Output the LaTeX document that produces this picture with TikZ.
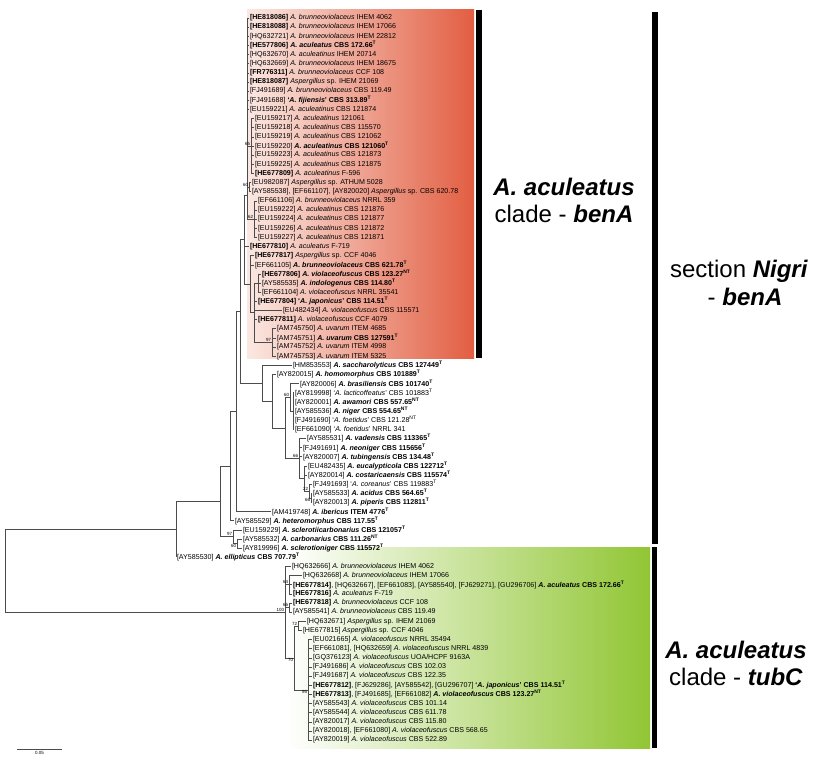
\documentclass[tikz,border=0pt]{standalone}
\usepackage{fontspec}
\setmainfont{Liberation Sans}
\definecolor{redL}{RGB}{251,232,226}
\definecolor{redR}{RGB}{226,94,66}
\definecolor{grnR}{RGB}{145,198,52}
\newcommand{\supT}{\textsuperscript{T}}
\newcommand{\supNT}{\textsuperscript{NT}}
\tikzset{
  br/.style={draw=black!70, line width=0.55pt},
  tip/.style={anchor=west, inner sep=0.8pt, font=\fontsize{7.1}{8}\selectfont},
  bs/.style={anchor=south east, inner sep=0.6pt, font=\fontsize{4.5}{5}\selectfont},
  bsl/.style={bs, anchor=north east},
  bigtxt/.style={inner sep=0pt, font=\fontsize{24}{27}\selectfont},
}

\begin{document}
\begin{tikzpicture}[x=1pt,y=-9.14pt]
\useasboundingbox (0,-1.969) rectangle (827,81.51);
% clade boxes and bars
\shade[left color=redL, right color=redR] (247,-0.9) rectangle (474,37.2);
\shade[left color=white, right color=grnR] (287,57.9) rectangle (650,79.9);
\fill (476,-0.9) rectangle (482,37.2);
\fill (652,-0.7) rectangle (658,57.6);
\fill (652,57.9) rectangle (657,79.9);
\node[bigtxt] (capA) at (564,18.5) {\textbf{\textit{A. aculeatus}}};
\node[bigtxt] (capB) at (564,21.4) {clade - \textbf{\textit{benA}}};
\node[bigtxt] (secA) at (739,27.7) {section \textbf{\textit{Nigri}}};
\node[bigtxt] (secB) at (745,30.5) {- \textbf{\textit{benA}}};
\node[bigtxt] (capC) at (736,69.1) {\textbf{\textit{A. aculeatus}}};
\node[bigtxt] (capD) at (736,72.1) {clade - \textbf{\textit{tubC}}};
% tips
\node[tip] (t0) at (249,0) {\textbf{[HE818086]} \textit{A. brunneoviolaceus} IHEM 4062};
\node[tip] (t1) at (249,1) {\textbf{[HE818088]} \textit{A. brunneoviolaceus} IHEM 17066};
\node[tip] (t2) at (249,2) {[HQ632721] \textit{A. brunneoviolaceus} IHEM 22812};
\node[tip] (t3) at (249,3) {\textbf{[HE577806] \textit{A. aculeatus} CBS 172.66\supT}};
\node[tip] (t4) at (249,4) {[HQ632670] \textit{A. aculeatinus} IHEM 20714};
\node[tip] (t5) at (249,5) {[HQ632669] \textit{A. brunneoviolaceus} IHEM 18675};
\node[tip] (t6) at (249,6) {\textbf{[FR776311]} \textit{A. brunneoviolaceus} CCF 108};
\node[tip] (t7) at (249,7) {\textbf{[HE818087]} \textit{Aspergillus} sp. IHEM 21069};
\node[tip] (t8) at (249,8) {[FJ491689] \textit{A. brunneoviolaceus} CBS 119.49};
\node[tip] (t9) at (249,9) {[FJ491688] \textbf{`\textit{A. fijiensis}' CBS 313.89\supT}};
\node[tip] (t10) at (249,10) {[EU159221] \textit{A. aculeatinus} CBS 121874};
\node[tip] (t11) at (254,11) {[EU159217] \textit{A. aculeatinus} 121061};
\node[tip] (t12) at (254,12) {[EU159218] \textit{A. aculeatinus} CBS 115570};
\node[tip] (t13) at (254,13) {[EU159219] \textit{A. aculeatinus} CBS 121062};
\node[tip] (t14) at (254,14) {[EU159220] \textbf{\textit{A. aculeatinus} CBS 121060\supT}};
\node[tip] (t15) at (254,15) {[EU159223] \textit{A. aculeatinus} CBS 121873};
\node[tip] (t16) at (254,16) {[EU159225] \textit{A. aculeatinus} CBS 121875};
\node[tip] (t17) at (254,17) {\textbf{[HE677809]} \textit{A. aculeatinus} F-596};
\node[tip] (t18) at (251,18) {[EU982087] \textit{Aspergillus} sp. ATHUM 5028};
\node[tip] (t19) at (251,19) {[AY585538], [EF661107], [AY820020] \textit{Aspergillus} sp. CBS 620.78};
\node[tip] (t20) at (257,20) {[EF661106] \textit{A. brunneoviolaceus} NRRL 359};
\node[tip] (t21) at (257,21) {[EU159222] \textit{A. aculeatinus} CBS 121876};
\node[tip] (t22) at (257,22) {[EU159224] \textit{A. aculeatinus} CBS 121877};
\node[tip] (t23) at (257,23) {[EU159226] \textit{A. aculeatinus} CBS 121872};
\node[tip] (t24) at (257,24) {[EU159227] \textit{A. aculeatinus} CBS 121871};
\node[tip] (t25) at (249,25) {\textbf{[HE677810]} \textit{A. aculeatus} F-719};
\node[tip] (t26) at (254,26) {\textbf{[HE677817]} \textit{Aspergillus} sp. CCF 4046};
\node[tip] (t27) at (254,27) {[EF661105] \textbf{\textit{A. brunneoviolaceus} CBS 621.78\supT}};
\node[tip] (t28) at (261,28) {\textbf{[HE677806] \textit{A. violaceofuscus} CBS 123.27\supNT}};
\node[tip] (t29) at (261,29) {[AY585535] \textbf{\textit{A. indologenus} CBS 114.80\supT}};
\node[tip] (t30) at (261,30) {[EF661104] \textit{A. violaceofuscus} NRRL 35541};
\node[tip] (t31) at (257,31) {\textbf{[HE677804] `\textit{A. japonicus}' CBS 114.51\supT}};
\node[tip] (t32) at (282,32) {[EU482434] \textit{A. violaceofuscus} CBS 115571};
\node[tip] (t33) at (257,33) {\textbf{[HE677811]} \textit{A. violaceofuscus} CCF 4079};
\node[tip] (t34) at (276,34) {[AM745750] \textit{A. uvarum} ITEM 4685};
\node[tip] (t35) at (276,35) {[AM745751] \textbf{\textit{A. uvarum} CBS 127591\supT}};
\node[tip] (t36) at (276,36) {[AM745752] \textit{A. uvarum} ITEM 4998};
\node[tip] (t37) at (276,37) {[AM745753] \textit{A. uvarum} ITEM 5325};
\node[tip] (t38) at (292,38) {[HM853553] \textbf{\textit{A. saccharolyticus} CBS 127449\supT}};
\node[tip] (t39) at (276,39) {[AY820015] \textbf{\textit{A. homomorphus} CBS 101889\supT}};
\node[tip] (t40) at (299,40) {[AY820006] \textbf{\textit{A. brasiliensis} CBS 101740\supT}};
\node[tip] (t41) at (294,41) {[AY819998] `\textit{A. lacticoffeatus}' CBS 101883\supT};
\node[tip] (t42) at (294,42) {[AY820001] \textbf{\textit{A. awamori} CBS 557.65\supNT}};
\node[tip] (t43) at (294,43) {[AY585536] \textbf{\textit{A. niger} CBS 554.65\supNT}};
\node[tip] (t44) at (294,44) {[FJ491690] `\textit{A. foetidus}' CBS 121.28\supNT};
\node[tip] (t45) at (294,45) {[EF661090] `\textit{A. foetidus}' NRRL 341};
\node[tip] (t46) at (306,46) {[AY585531] \textbf{\textit{A. vadensis} CBS 113365\supT}};
\node[tip] (t47) at (302,47) {[FJ491691] \textbf{\textit{A. neoniger} CBS 115656\supT}};
\node[tip] (t48) at (302,48) {[AY820007] \textbf{\textit{A. tubingensis} CBS 134.48\supT}};
\node[tip] (t49) at (307,49) {[EU482435] \textbf{\textit{A. eucalypticola} CBS 122712\supT}};
\node[tip] (t50) at (307,50) {[AY820014] \textbf{\textit{A. costaricaensis} CBS 115574\supT}};
\node[tip] (t51) at (312,51) {[FJ491693] `\textit{A. coreanus}' CBS 119883\supT};
\node[tip] (t52) at (312,52) {[AY585533] \textbf{\textit{A. acidus} CBS 564.65\supT}};
\node[tip] (t53) at (312,53) {[AY820013] \textbf{\textit{A. piperis} CBS 112811\supT}};
\node[tip] (t54) at (271,54) {[AM419748] \textbf{\textit{A. ibericus} ITEM 4776\supT}};
\node[tip] (t55) at (234,55) {[AY585529] \textbf{\textit{A. heteromorphus} CBS 117.55\supT}};
\node[tip] (t56) at (242,56) {[EU159229] \textbf{\textit{A. sclerotiicarbonarius} CBS 121057\supT}};
\node[tip] (t57) at (242,57) {[AY585532] \textbf{\textit{A. carbonarius} CBS 111.26\supNT}};
\node[tip] (t58) at (242,58) {[AY819996] \textbf{\textit{A. sclerotioniger} CBS 115572\supT}};
\node[tip] (t59) at (176,59) {[AY585530] \textbf{\textit{A. ellipticus} CBS 707.79\supT}};
\node[tip] (t60) at (291,60) {[HQ632666] \textit{A. brunneoviolaceus} IHEM 4062};
\node[tip] (t61) at (302,61) {[HQ632668] \textit{A. brunneoviolaceus} IHEM 17066};
\node[tip] (t62) at (292,62) {\textbf{[HE677814]}, [HQ632667], [EF661083], [AY585540], [FJ629271], [GU296706] \textbf{\textit{A. aculeatus} CBS 172.66\supT}};
\node[tip] (t63) at (292,63) {\textbf{[HE677816]} \textit{A. aculeatus} F-719};
\node[tip] (t64) at (292,64) {\textbf{[HE677818]} \textit{A. brunneoviolaceus} CCF 108};
\node[tip] (t65) at (292,65) {[AY585541] \textit{A. brunneoviolaceus} CBS 119.49};
\node[tip] (t66) at (306,66) {[HQ632671] \textit{Aspergillus} sp. IHEM 21069};
\node[tip] (t67) at (302,67) {[HE677815] \textit{Aspergillus} sp. CCF 4046};
\node[tip] (t68) at (312,68) {[EU021665] \textit{A. violaceofuscus} NRRL 35494};
\node[tip] (t69) at (312,69) {[EF661081], [HQ632659] \textit{A. violaceofuscus} NRRL 4839};
\node[tip] (t70) at (312,70) {[GQ376123] \textit{A. violaceofuscus} UOA/HCPF 9163A};
\node[tip] (t71) at (312,71) {[FJ491686] \textit{A. violaceofuscus} CBS 102.03};
\node[tip] (t72) at (312,72) {[FJ491687] \textit{A. violaceofuscus} CBS 122.35};
\node[tip] (t73) at (312,73) {\textbf{[HE677812]}, [FJ629286], [AY585542], [GU296707] \textbf{`\textit{A. japonicus}' CBS 114.51\supT}};
\node[tip] (t74) at (312,74) {\textbf{[HE677813]}, [FJ491685], [EF661082] \textbf{\textit{A. violaceofuscus} CBS 123.27\supNT}};
\node[tip] (t75) at (312,75) {[AY585543] \textit{A. violaceofuscus} CBS 101.14};
\node[tip] (t76) at (312,76) {[AY585544] \textit{A. violaceofuscus} CBS 611.78};
\node[tip] (t77) at (312,77) {[AY820017] \textit{A. violaceofuscus} CBS 115.80};
\node[tip] (t78) at (312,78) {[AY820018], [EF661080] \textit{A. violaceofuscus} CBS 568.65};
\node[tip] (t79) at (312,79) {[AY820019] \textit{A. violaceofuscus} CBS 522.89};
% internal nodes
\coordinate (nS65) at (251,14);
\coordinate (nS60) at (249,18.5);
\coordinate (nS62) at (254,22);
\coordinate (nP) at (247,19.4);
\coordinate (nSv) at (258,29);
\coordinate (nS97) at (272,35.5);
\coordinate (nN) at (254,32.25);
\coordinate (nM) at (250,29.125);
\coordinate (nR) at (244,24.26);
\coordinate (nH2) at (293,43);
\coordinate (nH) at (290,41.5);
\coordinate (nL) at (311,52.5);
\coordinate (nK) at (309,51.75);
\coordinate (nJ) at (304,50.375);
\coordinate (nI) at (299,48.19);
\coordinate (nG) at (285,44.84);
\coordinate (nF) at (272,41.92);
\coordinate (nE) at (262,39.96);
\coordinate (nD1) at (240,32.11);
\coordinate (nD0) at (236,43.06);
\coordinate (nC1) at (230,49.03);
\coordinate (nC3) at (237,57.5);
\coordinate (nC2) at (233,56.75);
\coordinate (nB1) at (220,52.89);
\coordinate (nA1) at (176,55.95);
\coordinate (nG64) at (289,62);
\coordinate (nG66) at (289,64.5);
\coordinate (nG72) at (298,66.5);
\coordinate (nG95) at (308,73.5);
\coordinate (nG70) at (294,70);
\coordinate (nG0) at (285,65);
\coordinate (nRoot) at (5,60.48);
% leaf branches
\foreach \i in {0,...,10} \draw[br] (nP |- t\i) -- (t\i.west);
\foreach \i in {11,...,17} \draw[br] (nS65 |- t\i) -- (t\i.west);
\foreach \i in {18,19} \draw[br] (nS60 |- t\i) -- (t\i.west);
\foreach \i in {20,...,24} \draw[br] (nS62 |- t\i) -- (t\i.west);
\draw[br] (nR |- t25) -- (t25.west);
\foreach \i in {26,27} \draw[br] (nM |- t\i) -- (t\i.west);
\foreach \i in {28,29,30} \draw[br] (nSv |- t\i) -- (t\i.west);
\foreach \i in {31,32,33} \draw[br] (nN |- t\i) -- (t\i.west);
\foreach \i in {34,...,37} \draw[br] (nS97 |- t\i) -- (t\i.west);
\draw[br] (nE |- t38) -- (t38.west);
\draw[br] (nF |- t39) -- (t39.west);
\draw[br] (nH |- t40) -- (t40.west);
\foreach \i in {41,...,45} \draw[br] (nH2 |- t\i) -- (t\i.west);
\foreach \i in {46,47,48} \draw[br] (nI |- t\i) -- (t\i.west);
\foreach \i in {49,50} \draw[br] (nJ |- t\i) -- (t\i.west);
\draw[br] (nK |- t51) -- (t51.west);
\foreach \i in {52,53} \draw[br] (nL |- t\i) -- (t\i.west);
\draw[br] (nD0 |- t54) -- (t54.west);
\draw[br] (nC1 |- t55) -- (t55.west);
\draw[br] (nC2 |- t56) -- (t56.west);
\foreach \i in {57,58} \draw[br] (nC3 |- t\i) -- (t\i.west);
\draw[br] (nG0 |- t60) -- (t60.west);
\foreach \i in {61,62,63} \draw[br] (nG64 |- t\i) -- (t\i.west);
\foreach \i in {64,65} \draw[br] (nG66 |- t\i) -- (t\i.west);
\foreach \i in {66,67} \draw[br] (nG72 |- t\i) -- (t\i.west);
\foreach \i in {68,...,79} \draw[br] (nG95 |- t\i) -- (t\i.west);
% clade verticals
\draw[br] (nP |- t0) -- (nP |- nS62);
\draw[br] (nS65 |- t11) -- (nS65 |- t17);
\draw[br] (nS60 |- t18) -- (nS60 |- t19);
\draw[br] (nS62 |- t20) -- (nS62 |- t24);
\draw[br] (nSv |- t28) -- (nSv |- t30);
\draw[br] (nS97 |- t34) -- (nS97 |- t37);
\draw[br] (nN |- nSv) -- (nN |- nS97);
\draw[br] (nM |- t26) -- (nM |- nN);
\draw[br] (nR |- nP) -- (nR |- nM);
\draw[br] (nH2 |- t41) -- (nH2 |- t45);
\draw[br] (nH |- t40) -- (nH |- nH2);
\draw[br] (nL |- t52) -- (nL |- t53);
\draw[br] (nK |- t51) -- (nK |- nL);
\draw[br] (nJ |- t49) -- (nJ |- nK);
\draw[br] (nI |- t46) -- (nI |- nJ);
\draw[br] (nG |- nH) -- (nG |- nI);
\draw[br] (nF |- t39) -- (nF |- nG);
\draw[br] (nE |- t38) -- (nE |- nF);
\draw[br] (nD1 |- nR) -- (nD1 |- nE);
\draw[br] (nD0 |- nD1) -- (nD0 |- t54);
\draw[br] (nC1 |- nD0) -- (nC1 |- t55);
\draw[br] (nC3 |- t57) -- (nC3 |- t58);
\draw[br] (nC2 |- t56) -- (nC2 |- nC3);
\draw[br] (nB1 |- nC1) -- (nB1 |- nC2);
\draw[br] (nA1 |- nB1) -- (nA1 |- t59);
\draw[br] (nG64 |- t61) -- (nG64 |- t63);
\draw[br] (nG66 |- t64) -- (nG66 |- t65);
\draw[br] (nG72 |- t66) -- (nG72 |- t67);
\draw[br] (nG95 |- t68) -- (nG95 |- t79);
\draw[br] (nG70 |- nG72) -- (nG70 |- nG95);
\draw[br] (nG0 |- t60) -- (nG0 |- nG70);
\draw[br] (nRoot |- nA1) -- (nRoot |- nG0);
% inner branches
\draw[br] (nP |- nS65) -- (nS65);
\draw[br] (nP |- nS60) -- (nS60);
\draw[br] (nP |- nS62) -- (nS62);
\draw[br] (nR |- nP) -- (nP);
\draw[br] (nR |- nM) -- (nM);
\draw[br] (nM |- nN) -- (nN);
\draw[br] (nN |- nSv) -- (nSv);
\draw[br] (nN |- nS97) -- (nS97);
\draw[br] (nD1 |- nR) -- (nR);
\draw[br] (nD1 |- nE) -- (nE);
\draw[br] (nE |- nF) -- (nF);
\draw[br] (nF |- nG) -- (nG);
\draw[br] (nG |- nH) -- (nH);
\draw[br] (nG |- nI) -- (nI);
\draw[br] (nH |- nH2) -- (nH2);
\draw[br] (nI |- nJ) -- (nJ);
\draw[br] (nJ |- nK) -- (nK);
\draw[br] (nK |- nL) -- (nL);
\draw[br] (nD0 |- nD1) -- (nD1);
\draw[br] (nC1 |- nD0) -- (nD0);
\draw[br] (nB1 |- nC1) -- (nC1);
\draw[br] (nB1 |- nC2) -- (nC2);
\draw[br] (nC2 |- nC3) -- (nC3);
\draw[br] (nA1 |- nB1) -- (nB1);
\draw[br] (nRoot |- nA1) -- (nA1);
\draw[br] (nRoot |- nG0) -- (nG0);
\draw[br] (nG0 |- nG64) -- (nG64);
\draw[br] (nG0 |- nG66) -- (nG66);
\draw[br] (nG0 |- nG70) -- (nG70);
\draw[br] (nG70 |- nG72) -- (nG72);
\draw[br] (nG70 |- nG95) -- (nG95);
% bootstrap values
\node[bs] (bS65) at (nS65) {65};
\node[bs] (bS60) at (nS60) {60};
\node[bs] (bS62) at (nS62) {62};
\node[bs] (bS97) at (nS97) {97};
\node[bs] (bH) at (nH) {60};
\node[bs] (bI) at (nI) {66};
\node[bs] (bK) at (nK) {22};
\node[bsl] (bL) at (nL) {66};
\node[bs] (bC2) at (nC2) {97};
\node[bsl] (bC3) at (nC3) {60};
\node[bs] (bG0) at (nG0) {100};
\node[bs] (bG64) at (nG64) {64};
\node[bs] (bG66) at (nG66) {66};
\node[bs] (bG72) at (nG72) {72};
\node[bsl] (bG70) at (nG70) {70};
\node[bsl] (bG95) at (nG95) {95};
% scale bar
\coordinate (sbA) at (17,79.98);
\coordinate (sbB) at (62,79.98);
\draw[br] (sbA) -- (sbB);
\node[bs, anchor=north] (sbT) at (39.5,80.2) {0.05};
\end{tikzpicture}
\end{document}
